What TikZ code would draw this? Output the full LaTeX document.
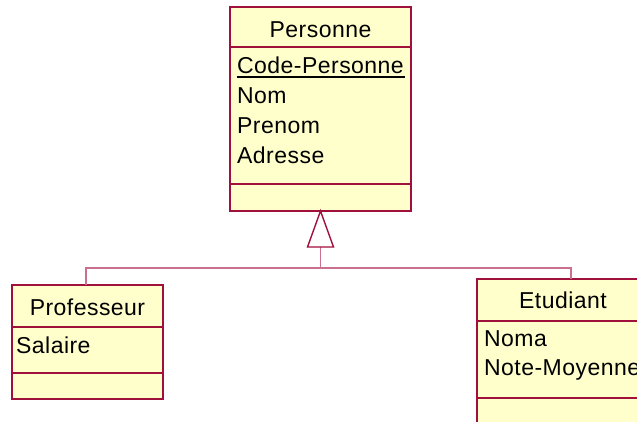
\documentclass[tikz,border=0pt]{standalone}
\usepackage{fontspec}
\setmainfont{Liberation Sans}[LetterSpace=2]
\definecolor{umlborder}{HTML}{A0103C}
\definecolor{umlline}{HTML}{C8708C}
\definecolor{umlfill}{HTML}{FFFFCC}
\begin{document}
\begin{tikzpicture}[x=1pt,y=-1pt,
  classbox/.style={draw=umlborder,fill=umlfill,line width=1.4pt,rectangle,anchor=north west,inner sep=0pt,outer sep=0pt},
  sep/.style={draw=umlborder,line width=1.2pt},
  conn/.style={draw=umlline,line width=1.4pt},
  txt/.style={inner sep=0pt,font=\fontsize{23}{27}\selectfont}]
\useasboundingbox (0,0) rectangle (637,421);
\clip (0,0) rectangle (637,421);
\fill[white] (0,0) rectangle (637,421);
% Personne
\node[classbox,minimum width=181pt,minimum height=204pt] (pers) at (230,7) {};
\draw[sep] (230,47) -- (411,47);
\draw[sep] (230,184) -- (411,184);
\node[txt,anchor=base] (pname) at (320.5,37) {Personne};
\node[txt,anchor=base west] (a1) at (237,73) {Code-Personne};
\draw[black,line width=1.6pt] (a1.base west) ++(0,4) -- ++(168,0);
\node[txt,anchor=base west] (a2) at (237,103) {Nom};
\node[txt,anchor=base west] (a3) at (237,133) {Prenom};
\node[txt,anchor=base west] (a4) at (237,163) {Adresse};
% Professeur
\node[classbox,minimum width=151pt,minimum height=114pt] (prof) at (12,285) {};
\draw[sep] (12,327) -- (163,327);
\draw[sep] (12,373) -- (163,373);
\node[txt,anchor=base] (prname) at (87.5,315) {Professeur};
\node[txt,anchor=base west] (b1) at (16,353) {Salaire};
% Etudiant
\node[classbox,minimum width=172pt,minimum height=160pt] (etu) at (477,279) {};
\draw[sep] (477,321) -- (649,321);
\draw[sep] (477,398) -- (649,398);
\node[txt,anchor=base] (ename) at (563,308) {Etudiant};
\node[txt,anchor=base west] (c1) at (484,346) {Noma};
\node[txt,anchor=base west] (c2) at (484,375) {Note-Moyenne};
% generalization
\coordinate (tip) at (pers.south);
\coordinate (tribase) at (320.5,247);
\coordinate (junc) at (320.5,268);
\coordinate (ptop) at (86,285);
\coordinate (etop) at (571,279);
\draw[conn] (tribase) -- (junc);
\draw[conn] (ptop) |- (junc) -| (etop);
\draw[draw=umlborder,fill=white,line width=1.4pt,line join=miter] (tip) -- (307.5,247) -- (333.5,247) -- cycle;
\end{tikzpicture}
\end{document}
